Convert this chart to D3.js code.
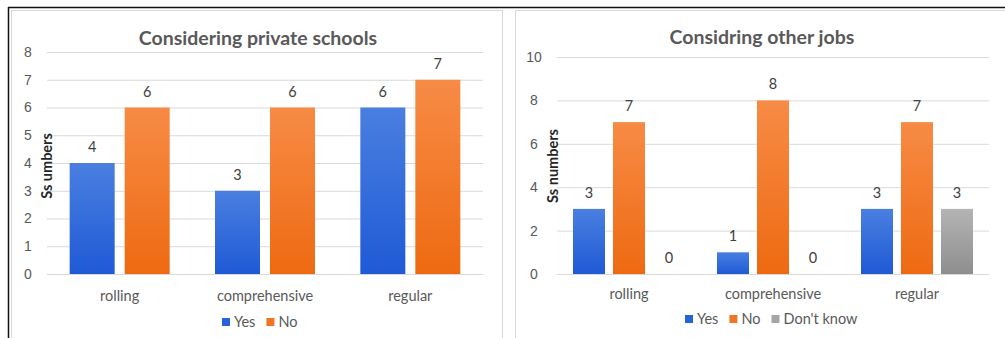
<!DOCTYPE html>
<html>
<head>
<meta charset="utf-8">
<script src="https://cdn.jsdelivr.net/npm/d3@7"></script>
<style>
  body { margin: 0; background: #fff; }
  svg { display: block; font-family: Lato, "Open Sans", sans-serif; }
</style>
</head>
<body>
<svg id="chart" width="1005" height="338"></svg>
<script>
// data
const categories = ["rolling", "comprehensive", "regular"];

const privateSeries = ["Yes", "No"];
const privateYes = [4, 3, 6];
const privateNo = [6, 6, 7];
const privateTicks = [0, 1, 2, 3, 4, 5, 6, 7, 8];

const jobsSeries = ["Yes", "No", "Don't know"];
const jobsYes = [3, 1, 3];
const jobsNo = [7, 8, 7];
const jobsDontKnow = [0, 0, 3];
const jobsTicks = [0, 2, 4, 6, 8, 10];

const svg = d3.select("#chart");

// gradients for the bar fills
const defs = svg.append("defs");
const grads = {
  Yes: ["#4a7fe0", "#1f5ad6"],
  No: ["#f78b45", "#ee6a12"],
  "Don't know": ["#b4b4b4", "#8e8e8e"]
};
const legendColor = { Yes: "#2563d9", No: "#f07423", "Don't know": "#a5a5a5" };
Object.entries(grads).forEach(([k, c], i) => {
  const g = defs.append("linearGradient")
    .attr("id", "grad" + i)
    .attr("x1", 0).attr("y1", 0).attr("x2", 0).attr("y2", 1);
  g.append("stop").attr("offset", "0%").attr("stop-color", c[0]);
  g.append("stop").attr("offset", "100%").attr("stop-color", c[1]);
  grads[k].id = "url(#grad" + i + ")";
});

// frame lines
svg.append("line").attr("x1", 8).attr("x2", 1005).attr("y1", 7.5).attr("y2", 7.5)
  .attr("stroke", "#111").attr("stroke-width", 1.5);
svg.append("line").attr("x1", 8.5).attr("x2", 8.5).attr("y1", 7).attr("y2", 338)
  .attr("stroke", "#111").attr("stroke-width", 1.5);
svg.append("rect").attr("x", 11.5).attr("y", 10.5).attr("width", 491).attr("height", 330)
  .attr("fill", "none").attr("stroke", "#d9d9d9");
svg.append("rect").attr("x", 515.5).attr("y", 10.5).attr("width", 495).attr("height", 330)
  .attr("fill", "none").attr("stroke", "#d9d9d9");

function drawChart(cfg) {
  const g = svg.append("g");

  const y = d3.scaleLinear().domain([0, cfg.max]).range([cfg.bottom, cfg.top]);
  const x0 = d3.scaleBand().domain(categories).range([cfg.left, cfg.right]);
  const groupW = cfg.barW * cfg.series.length + cfg.gap * (cfg.series.length - 1);
  const x1 = d3.scaleBand().domain(cfg.series)
    .range([0, groupW]).paddingInner(cfg.gap / (cfg.barW + cfg.gap));

  // gridlines + tick labels
  const yAxis = d3.axisLeft(y).tickValues(cfg.ticks).tickSize(-(cfg.right - cfg.left)).tickPadding(0);
  const ax = g.append("g").attr("transform", `translate(${cfg.left},0)`).call(yAxis);
  ax.select(".domain").remove();
  ax.selectAll(".tick line").attr("stroke", "#d9d9d9");
  ax.selectAll(".tick text")
    .attr("x", cfg.tickX - cfg.left)
    .attr("text-anchor", "middle")
    .attr("fill", "#595959")
    .style("font-size", "14px");

  // bars
  const rows = categories.map((c, i) => ({
    cat: c,
    vals: cfg.series.map((s, j) => ({ s, v: cfg.values[j][i] }))
  }));
  const grp = g.selectAll(".cat").data(rows).join("g")
    .attr("transform", d => `translate(${x0(d.cat) + (x0.bandwidth() - groupW) / 2},0)`);
  grp.selectAll("rect").data(d => d.vals).join("rect")
    .attr("x", d => x1(d.s))
    .attr("y", d => y(d.v))
    .attr("width", x1.bandwidth())
    .attr("height", d => y(0) - y(d.v))
    .attr("fill", d => grads[d.s].id);
  grp.selectAll("text").data(d => d.vals).join("text")
    .attr("x", d => x1(d.s) + x1.bandwidth() / 2)
    .attr("y", d => y(d.v) - 11)
    .attr("text-anchor", "middle")
    .attr("fill", "#404040")
    .style("font-size", "14.5px")
    .text(d => d.v);

  // category labels
  g.selectAll(".xl").data(categories).join("text")
    .attr("x", d => x0(d) + x0.bandwidth() / 2)
    .attr("y", cfg.xLabelY)
    .attr("text-anchor", "middle")
    .attr("fill", "#595959")
    .style("font-size", "14.5px")
    .text(d => d);

  // title
  g.append("text")
    .attr("x", cfg.titleX).attr("y", cfg.titleY)
    .attr("text-anchor", "middle")
    .attr("fill", "#595959")
    .style("font-size", "19.5px").style("font-weight", "bold")
    .text(cfg.title);

  // y title
  g.append("text")
    .attr("transform", `translate(${cfg.yTitleX},${cfg.yTitleY}) rotate(-90)`)
    .attr("text-anchor", "middle")
    .attr("fill", "#262626")
    .style("font-size", "14.5px").style("font-weight", "bold")
    .text(cfg.yTitle);

  // legend
  const lg = g.append("g").attr("transform", `translate(0,${cfg.legendY})`);
  let lx = cfg.legendX;
  cfg.series.forEach(s => {
    lg.append("rect").attr("x", lx).attr("y", -4).attr("width", 8).attr("height", 8)
      .attr("fill", legendColor[s]);
    const t = lg.append("text").attr("x", lx + 12).attr("y", 5)
      .attr("fill", "#595959").style("font-size", "14.5px").text(s);
    lx += 12 + t.node().getComputedTextLength() + 11;
  });
}

drawChart({
  title: "Considering private schools", titleX: 258, titleY: 45,
  yTitle: "Ss umbers", yTitleX: 52, yTitleY: 166,
  series: privateSeries, values: [privateYes, privateNo],
  max: 8, ticks: privateTicks,
  left: 47, right: 483, top: 52, bottom: 274,
  barW: 45, gap: 10, tickX: 28,
  xLabelY: 301, legendY: 322, legendX: 222
});

drawChart({
  title: "Considring other jobs", titleX: 762, titleY: 44,
  yTitle: "Ss numbers", yTitleX: 558, yTitleY: 166,
  series: jobsSeries, values: [jobsYes, jobsNo, jobsDontKnow],
  max: 10, ticks: jobsTicks,
  left: 557, right: 989, top: 57, bottom: 274,
  barW: 32, gap: 8, tickX: 534,
  xLabelY: 299, legendY: 319, legendX: 685
});
</script>
</body>
</html>
